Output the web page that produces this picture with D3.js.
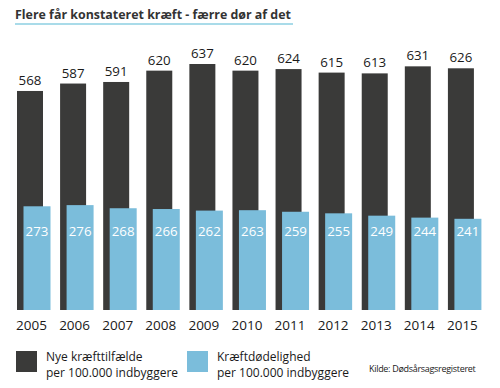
<!DOCTYPE html>
<html>
<head>
<meta charset="utf-8">
<script src="https://cdn.jsdelivr.net/npm/d3@7"></script>
<style>
  body { margin: 0; background: #fff; }
  svg text { font-family: "Open Sans", "Noto Sans", sans-serif; }
</style>
</head>
<body>
<div id="chart"></div>
<script>
// Data
const years = ["2005", "2006", "2007", "2008", "2009", "2010", "2011", "2012", "2013", "2014", "2015"];
const newCases = [568, 587, 591, 620, 637, 620, 624, 615, 613, 631, 626];
const mortality = [273, 276, 268, 266, 262, 263, 259, 255, 249, 244, 241];

const darkColor = "#3a3a39";
const lightColor = "#7bbddb";

const svg = d3.select("#chart")
    .append("svg")
    .attr("width", 500)
    .attr("height", 388);

// shrink/grow a text's font size so it spans the given width
const fitWidth = (sel, target) => {
    const node = sel.node();
    const size = parseFloat(sel.attr("font-size"));
    const w = node.getComputedTextLength();
    if (w > 0) sel.attr("font-size", (size * target / w).toFixed(2));
};

// Title + underline
const title = svg.append("text")
    .attr("x", 15)
    .attr("y", 19)
    .attr("font-size", 15)
    .attr("font-weight", "bold")
    .attr("fill", "#333")
    .text("Flere får konstateret kræft - færre dør af det");
fitWidth(title, 276);

svg.append("rect")
    .attr("x", 15)
    .attr("y", 23)
    .attr("width", 278)
    .attr("height", 2)
    .attr("fill", "#a9dbe9");

// Scales
const x = d3.scaleBand()
    .domain(years)
    .range([17, 491])
    .paddingInner(0.0)
    .paddingOuter(0);

const baseY = 310;
const y = d3.scaleLinear()
    .domain([0, 637])
    .range([313, 64]);

const darkW = 26;
const lightOff = 6.5;
const lightW = 27;

// Dark bars
svg.selectAll("rect.dark")
    .data(years)
    .join("rect")
    .attr("class", "dark")
    .attr("x", d => x(d))
    .attr("y", (d, i) => y(newCases[i]))
    .attr("width", darkW)
    .attr("height", (d, i) => baseY - y(newCases[i]))
    .attr("fill", darkColor);

// Light bars
svg.selectAll("rect.light")
    .data(years)
    .join("rect")
    .attr("class", "light")
    .attr("x", d => x(d) + lightOff)
    .attr("y", (d, i) => y(mortality[i]))
    .attr("width", lightW)
    .attr("height", (d, i) => baseY - y(mortality[i]))
    .attr("fill", lightColor);

// Value labels above dark bars
svg.selectAll("text.darkval")
    .data(years)
    .join("text")
    .attr("class", "darkval")
    .attr("x", d => x(d) + darkW / 2)
    .attr("y", (d, i) => y(newCases[i]) - 6)
    .attr("text-anchor", "middle")
    .attr("font-size", 13.3)
    .attr("fill", "#1a1a1a")
    .text((d, i) => newCases[i]);

// Value labels inside light bars
svg.selectAll("text.lightval")
    .data(years)
    .join("text")
    .attr("class", "lightval")
    .attr("x", d => x(d) + lightOff + lightW / 2)
    .attr("y", 236)
    .attr("text-anchor", "middle")
    .attr("font-size", 13.3)
    .attr("fill", "#fff")
    .text((d, i) => mortality[i]);

// Year labels
svg.selectAll("text.year")
    .data(years)
    .join("text")
    .attr("class", "year")
    .attr("x", d => x(d) + 14.5)
    .attr("y", 330)
    .attr("text-anchor", "middle")
    .attr("font-size", 13.5)
    .attr("fill", "#1a1a1a")
    .text(d => d);

// Legend
const legend = [
    { color: darkColor, x: 16, lines: ["Nye kræfttilfælde", "per 100.000 indbyggere"] },
    { color: lightColor, x: 187, lines: ["Kræftdødelighed", "per 100.000 indbyggere"] }
];

legend.forEach(l => {
    svg.append("rect")
        .attr("x", l.x)
        .attr("y", 351)
        .attr("width", 21)
        .attr("height", 21)
        .attr("fill", l.color);
    l.lines.forEach((t, i) => {
        svg.append("text")
            .attr("x", l.x + 30)
            .attr("y", 361 + i * 16)
            .attr("font-size", 12)
            .attr("fill", "#1a1a1a")
            .text(t);
    });
});

svg.append("text")
    .attr("x", 369)
    .attr("y", 372)
    .attr("font-size", 9)
    .attr("fill", "#1a1a1a")
    .attr("letter-spacing", -0.3)
    .text("Kilde: Dødsårsagsregisteret");
</script>
</body>
</html>
